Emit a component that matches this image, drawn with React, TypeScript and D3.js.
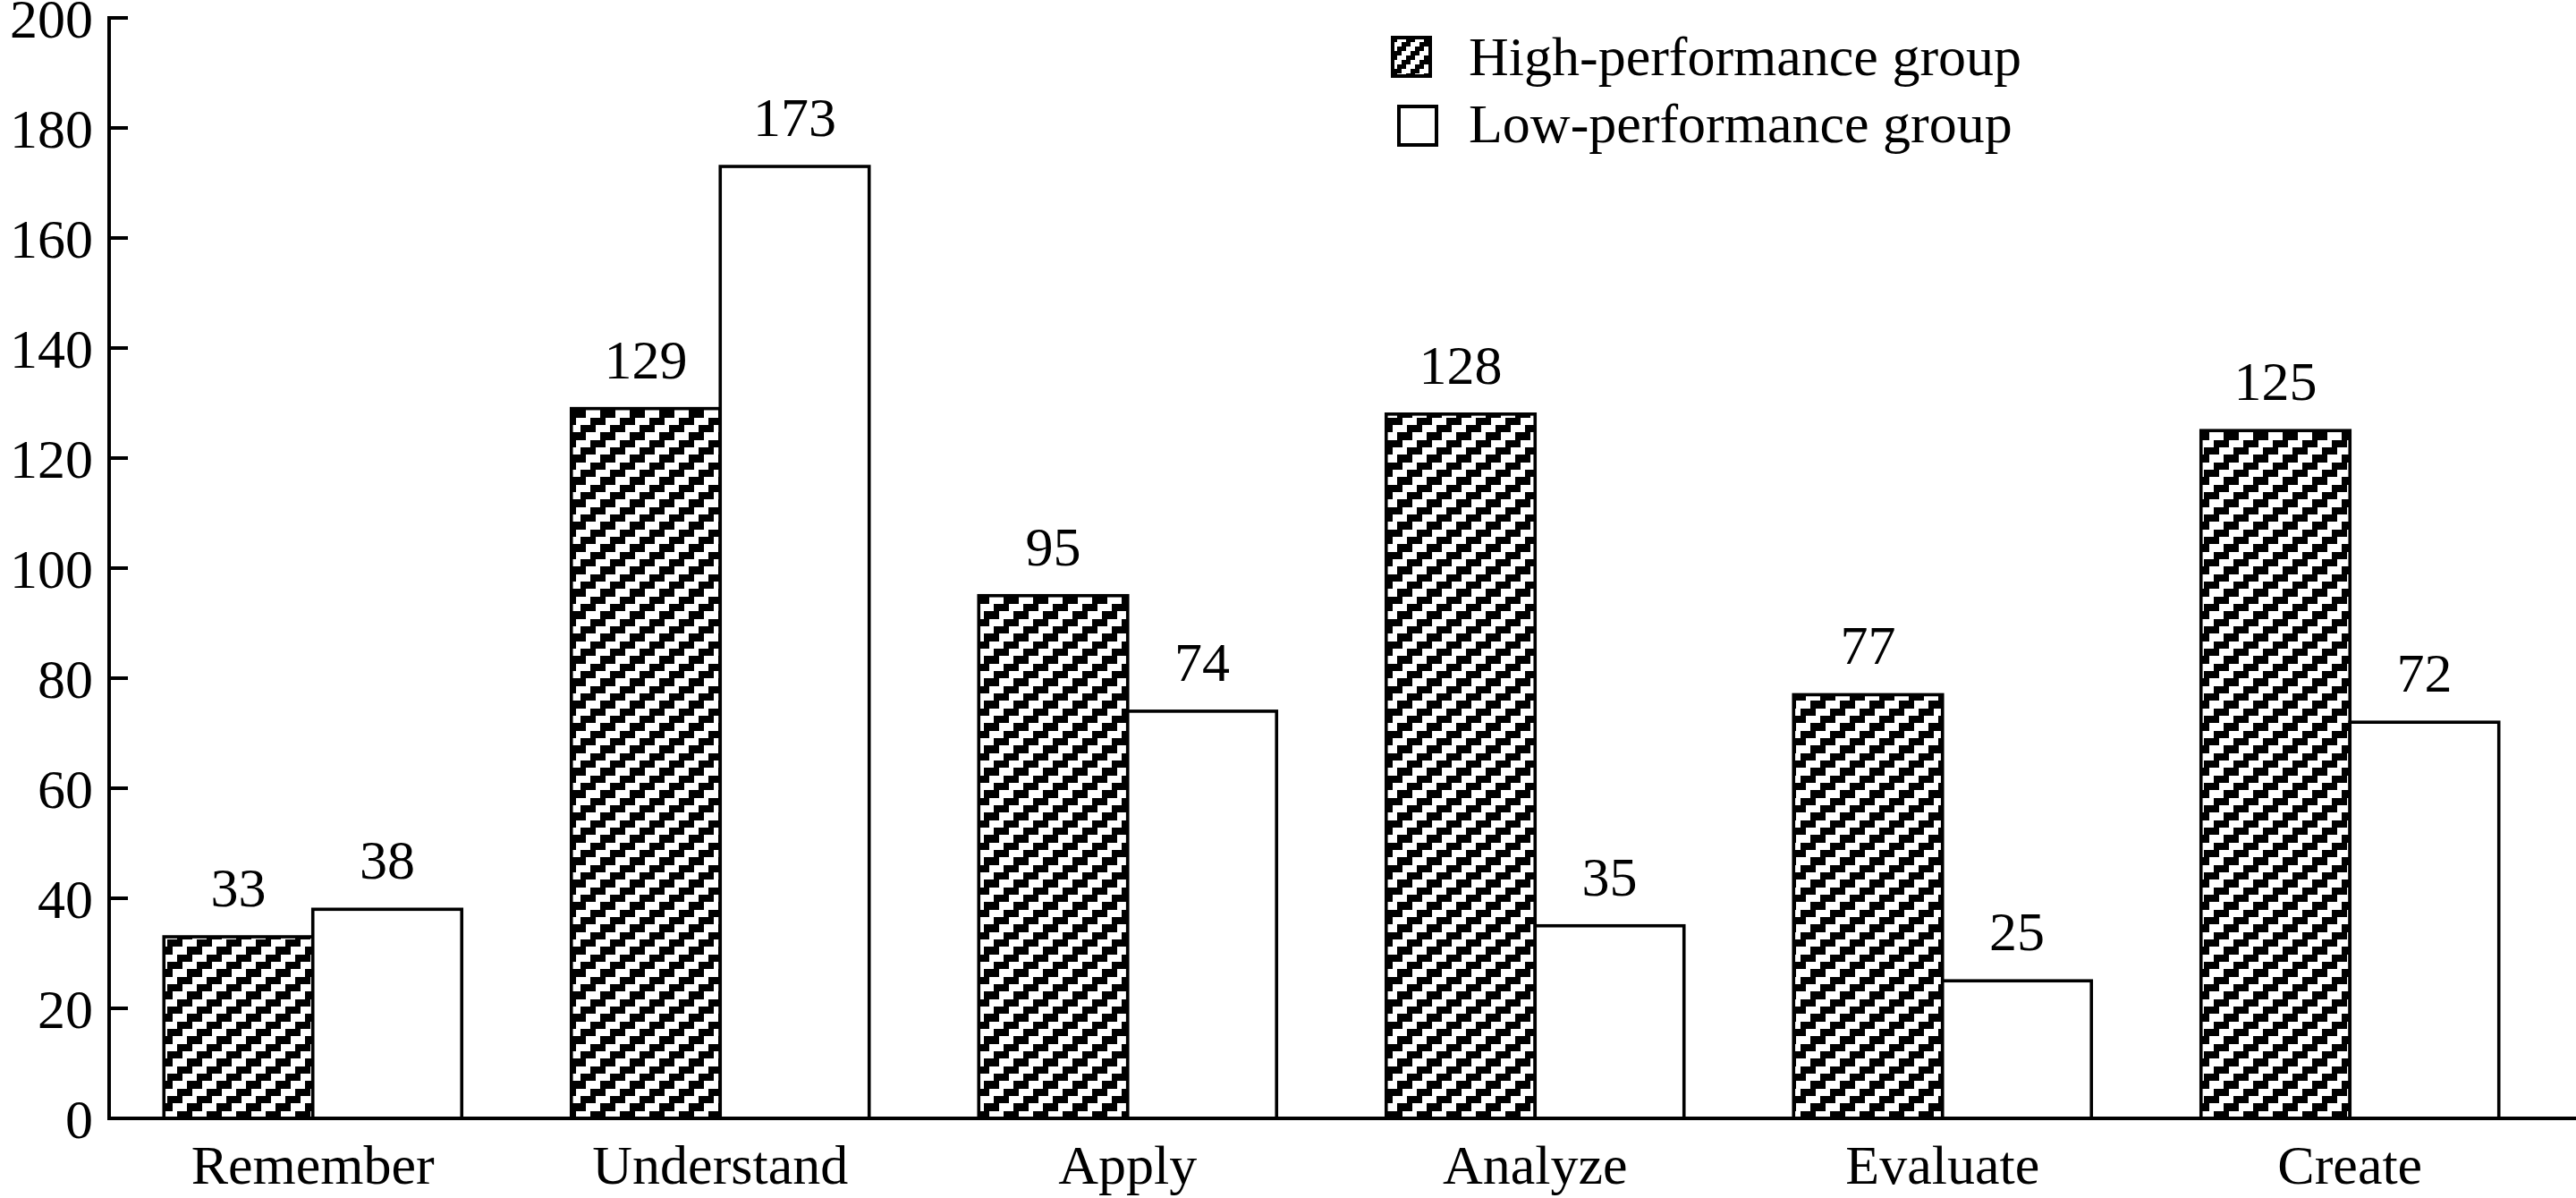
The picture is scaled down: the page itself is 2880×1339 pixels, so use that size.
import React from "react";
import * as d3 from "d3";

const categories = ["Remember", "Understand", "Apply", "Analyze", "Evaluate", "Create"];
const seriesNames = ["High-performance group", "Low-performance group"];
const highValues = [33, 129, 95, 128, 77, 125];
const lowValues = [38, 173, 74, 35, 25, 72];
const yTicks = [0, 20, 40, 60, 80, 100, 120, 140, 160, 180, 200];

const W = 2880;
const H = 1339;
const FONT = "'Liberation Serif', 'Times New Roman', serif";

export default function App() {
  const x0 = 122;
  const y0 = 1250;
  const yTop = 20;
  const x = d3.scaleBand<string>().domain(categories).range([x0, 2855]).padding(0);
  const inner = d3
    .scaleBand<string>()
    .domain(["high", "low"])
    .range([0, x.bandwidth()])
    .paddingInner(0)
    .paddingOuter(0.368);
  const y = d3.scaleLinear().domain([0, 200]).range([y0, yTop]);

  const series = [
    { key: "high", values: highValues, fill: "url(#hatch)" },
    { key: "low", values: lowValues, fill: "#fff" },
  ];

  return (
    <svg
      width={W}
      height={H}
      viewBox={`0 0 ${W} ${H}`}
      style={{ position: "absolute", left: 0, top: 0, display: "block", background: "#fff" }}
      fontFamily={FONT}
    >
      <defs>
        <pattern id="hatch" patternUnits="userSpaceOnUse" width={33} height={25}>
          <rect x={0} y={0} width={33} height={25} fill="#fff" />
          <g fill="#000" shapeRendering="crispEdges">
            <rect x={22} y={0} width={11} height={8.34} />
            <rect x={0} y={0} width={5.5} height={8.34} />
            <rect x={11} y={8.33} width={16.5} height={8.34} />
            <rect x={0} y={16.66} width={16.5} height={8.34} />
          </g>
        </pattern>
        <pattern id="hatchLegend" patternUnits="userSpaceOnUse" width={20} height={20} x={1557} y={42}>
          <rect x={0} y={0} width={20} height={20} fill="#fff" />
          <g fill="#000" shapeRendering="crispEdges">
            <rect x={15} y={0} width={5} height={5} />
            <rect x={0} y={0} width={5} height={5} />
            <rect x={10} y={5} width={10} height={5} />
            <rect x={5} y={10} width={10} height={5} />
            <rect x={0} y={15} width={10} height={5} />
          </g>
        </pattern>
      </defs>

      {/* bars */}
      {series.map((s) =>
        categories.map((c, i) => {
          const bx = (x(c) ?? 0) + (inner(s.key) ?? 0);
          const by = y(s.values[i]);
          return (
            <rect
              key={s.key + c}
              x={bx}
              y={by}
              width={inner.bandwidth()}
              height={y0 - by}
              fill={s.fill}
              stroke="#000"
              strokeWidth={3.6}
            />
          );
        })
      )}

      {/* value labels */}
      {series.map((s) =>
        categories.map((c, i) => {
          const cx = (x(c) ?? 0) + (inner(s.key) ?? 0) + inner.bandwidth() / 2;
          return (
            <text
              key={"l" + s.key + c}
              x={cx}
              y={y(s.values[i]) - 34}
              textAnchor="middle"
              fontSize={62}
              fill="#000"
            >
              {s.values[i]}
            </text>
          );
        })
      )}

      {/* y axis */}
      <line x1={x0} x2={x0} y1={yTop - 2} y2={y0 + 2} stroke="#000" strokeWidth={4} />
      {yTicks.map((t) => (
        <g key={"t" + t}>
          <line x1={x0} x2={x0 + 21} y1={y(t)} y2={y(t)} stroke="#000" strokeWidth={4} />
          <text x={104} y={y(t) + 22} textAnchor="end" fontSize={62} fill="#000">
            {t}
          </text>
        </g>
      ))}

      {/* x axis */}
      <line x1={x0 - 2} x2={W} y1={y0} y2={y0} stroke="#000" strokeWidth={4} />
      {categories.map((c) => (
        <text
          key={"c" + c}
          x={(x(c) ?? 0) + x.bandwidth() / 2}
          y={1323}
          textAnchor="middle"
          fontSize={62}
          fill="#000"
        >
          {c}
        </text>
      ))}

      {/* legend */}
      <rect x={1557} y={42} width={42} height={43} fill="url(#hatchLegend)" stroke="#000" strokeWidth={4} />
      <text x={1642} y={84} fontSize={62} fill="#000">
        {seriesNames[0]}
      </text>
      <rect x={1564} y={119} width={42} height={43} fill="#fff" stroke="#000" strokeWidth={4} />
      <text x={1642} y={159} fontSize={62} fill="#000">
        {seriesNames[1]}
      </text>
    </svg>
  );
}
